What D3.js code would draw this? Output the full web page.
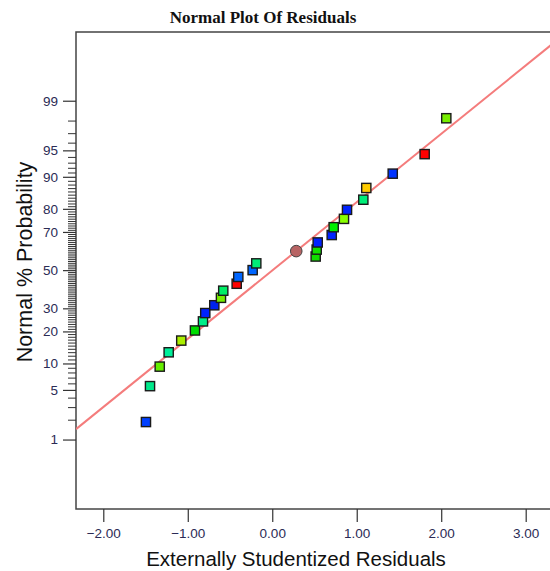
<!DOCTYPE html>
<html>
<head>
<meta charset="utf-8">
<script src="https://cdn.jsdelivr.net/npm/d3@7"></script>
<style>
  html, body { margin: 0; padding: 0; background: #fff; }
  svg { display: block; }
</style>
</head>
<body>
<div id="chart"></div>
<script>
// Externally studentized residuals, sorted, with their normal % probability
const residuals = [-1.495, -1.447, -1.332, -1.226, -1.077, -0.915, -0.820, -0.793, -0.686,
  -0.607, -0.580, -0.421, -0.402, -0.232, -0.189, 0.514, 0.526, 0.538, 0.704, 0.727,
  0.849, 0.885, 1.078, 1.113, 1.426, 1.804, 2.060];
const probabilities = [1.85, 5.56, 9.26, 12.96, 16.67, 20.37, 24.07, 27.78, 31.48, 35.19,
  38.89, 42.59, 46.30, 50.00, 53.70, 57.41, 61.11, 64.81, 68.52, 72.22, 75.93, 79.63,
  83.33, 87.04, 90.74, 94.44, 98.15];
const pointColors = ["#0040ff", "#00e88a", "#66ee00", "#00ee99", "#aaee00", "#00dd00",
  "#00ee88", "#0022ff", "#0022ee", "#77ee00", "#00ee66", "#ff0000", "#0066ff", "#0066ff",
  "#00ee77", "#11dd00", "#11e000", "#0022ff", "#0022ff", "#00ee00", "#88ff00", "#0022ff",
  "#00ee77", "#ffcc00", "#0033ff", "#ff0000", "#77ee00"];

// Selected run, drawn as a circle
const selectedResidual = [0.284];
const selectedProbability = [60.3];

// Reference normal line endpoints
const lineResiduals = [-2.323, 3.35];
const lineProbabilities = [1.45, 99.915];

const yMajorTicks = [1, 5, 10, 20, 30, 50, 70, 80, 90, 95, 99];
const xTicks = [-2, -1, 0, 1, 2, 3];

// Inverse standard normal CDF (Acklam)
function probit(p) {
  const a = [-3.969683028665376e+01, 2.209460984245205e+02, -2.759285104469687e+02,
    1.383577518672690e+02, -3.066479806614716e+01, 2.506628277459239e+00];
  const b = [-5.447609879822406e+01, 1.615858368580409e+02, -1.556989798598866e+02,
    6.680131188771972e+01, -1.328068155288572e+01];
  const c = [-7.784894002430293e-03, -3.223964580411365e-01, -2.400758277161838e+00,
    -2.549732539343734e+00, 4.374664141464968e+00, 2.938163982698783e+00];
  const d = [7.784695709041462e-03, 3.224671290700398e-01, 2.445134137142996e+00,
    3.754408661907416e+00];
  const pl = 0.02425, ph = 1 - pl;
  let q, r;
  if (p < pl) {
    q = Math.sqrt(-2 * Math.log(p));
    return (((((c[0]*q+c[1])*q+c[2])*q+c[3])*q+c[4])*q+c[5]) /
           ((((d[0]*q+d[1])*q+d[2])*q+d[3])*q+1);
  }
  if (p <= ph) {
    q = p - 0.5; r = q * q;
    return (((((a[0]*r+a[1])*r+a[2])*r+a[3])*r+a[4])*r+a[5])*q /
           (((((b[0]*r+b[1])*r+b[2])*r+b[3])*r+b[4])*r+1);
  }
  q = Math.sqrt(-2 * Math.log(1 - p));
  return -(((((c[0]*q+c[1])*q+c[2])*q+c[3])*q+c[4])*q+c[5]) /
          ((((d[0]*q+d[1])*q+d[2])*q+d[3])*q+1);
}

const W = 550, H = 571;
const plot = { left: 76, top: 32, bottom: 509 };

const x = d3.scaleLinear().domain([-2.323, 3.35]).range([plot.left, 272.26 + 3.35 * 84.48]);
const zScale = d3.scaleLinear().domain([-3.28, 3.27]).range([plot.bottom, plot.top]);
const y = pct => zScale(probit(pct / 100));

const svg = d3.select("#chart").append("svg").attr("width", W).attr("height", H);

const plotRight = x.range()[1];

svg.append("defs").append("clipPath").attr("id", "plotClip")
  .append("rect").attr("x", plot.left).attr("y", plot.top)
  .attr("width", plotRight - plot.left).attr("height", plot.bottom - plot.top);

// Title
svg.append("text")
  .attr("x", 263).attr("y", 22.5)
  .attr("text-anchor", "middle")
  .style("font-family", "'Liberation Serif', 'Times New Roman', serif")
  .style("font-weight", "bold")
  .style("font-size", "17px")
  .attr("fill", "#111")
  .text("Normal Plot Of Residuals");

// Frame
svg.append("rect")
  .attr("x", plot.left).attr("y", plot.top)
  .attr("width", plotRight - plot.left).attr("height", plot.bottom - plot.top)
  .attr("fill", "none").attr("stroke", "#444").attr("stroke-width", 1.5);

// Y axis: probability ticks
const tickFont = "'Liberation Sans', Arial, sans-serif";
const yMinor = d3.range(2, 99).filter(v => !yMajorTicks.includes(v));
const yAxisMajor = d3.axisLeft(zScale)
  .tickValues(yMajorTicks.map(v => probit(v / 100)))
  .tickFormat((d, i) => yMajorTicks[i])
  .tickSize(13).tickPadding(5);
const gY = svg.append("g").attr("transform", `translate(${plot.left},0)`).call(yAxisMajor);
gY.select(".domain").remove();
gY.selectAll(".tick line").attr("stroke", "#333").attr("stroke-width", 1.2);
gY.selectAll(".tick text")
  .style("font-family", tickFont).style("font-size", "13.5px").attr("fill", "#2b2b55");

const yAxisMinor = d3.axisLeft(zScale)
  .tickValues(yMinor.map(v => probit(v / 100)))
  .tickFormat("").tickSize(8);
const gYm = svg.append("g").attr("transform", `translate(${plot.left},0)`).call(yAxisMinor);
gYm.select(".domain").remove();
gYm.selectAll(".tick line").attr("stroke", "#333").attr("stroke-width", 1);

// X axis
const xAxis = d3.axisBottom(x).tickValues(xTicks).tickFormat(d3.format(".2f"))
  .tickSize(13).tickPadding(6);
const gX = svg.append("g").attr("transform", `translate(0,${plot.bottom})`).call(xAxis);
gX.select(".domain").remove();
gX.selectAll(".tick line").attr("stroke", "#333").attr("stroke-width", 1.2);
gX.selectAll(".tick text")
  .style("font-family", tickFont).style("font-size", "13.5px").attr("fill", "#2b2b55");

// Axis titles
svg.append("text")
  .attr("x", 296).attr("y", 566)
  .attr("text-anchor", "middle")
  .style("font-family", tickFont).style("font-size", "20.5px").attr("fill", "#111")
  .text("Externally Studentized Residuals");

svg.append("text")
  .attr("transform", "translate(31.5,262) rotate(-90)")
  .attr("text-anchor", "middle")
  .style("font-family", tickFont).style("font-size", "21.5px").attr("fill", "#111")
  .text("Normal % Probability");

// Plot contents
const gPlot = svg.append("g").attr("clip-path", "url(#plotClip)");

gPlot.append("line")
  .attr("x1", x(lineResiduals[0])).attr("y1", y(lineProbabilities[0]))
  .attr("x2", x(lineResiduals[1])).attr("y2", y(lineProbabilities[1]))
  .attr("stroke", "#f47c7c").attr("stroke-width", 2);

const pts = residuals.map((r, i) => ({ r, p: probabilities[i], c: pointColors[i] }));
const sq = 9.2;
gPlot.selectAll("rect.pt").data(pts).join("rect")
  .attr("class", "pt")
  .attr("x", d => x(d.r) - sq / 2).attr("y", d => y(d.p) - sq / 2)
  .attr("width", sq).attr("height", sq)
  .attr("fill", d => d.c)
  .attr("stroke", "#1a1a1a").attr("stroke-width", 1.4);

gPlot.selectAll("circle.sel").data(selectedResidual).join("circle")
  .attr("class", "sel")
  .attr("cx", d => x(d)).attr("cy", (d, i) => y(selectedProbability[i]))
  .attr("r", 5.8)
  .attr("fill", "#b86464").attr("stroke", "#444").attr("stroke-width", 1);
</script>
</body>
</html>
